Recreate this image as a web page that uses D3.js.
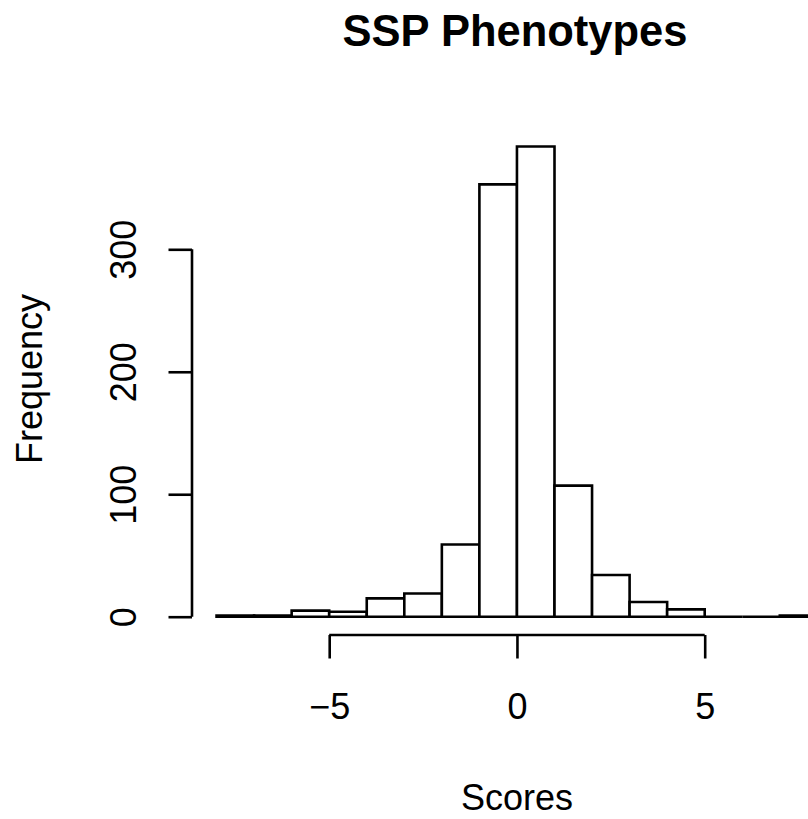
<!DOCTYPE html>
<html>
<head>
<meta charset="utf-8">
<script src="https://cdn.jsdelivr.net/npm/d3@7"></script>
<style>
	body { margin: 0; background: #fff; }
	text { font-family: "Liberation Sans", Arial, sans-serif; fill: #000; }
</style>
</head>
<body>
<svg id="chart" width="808" height="819"></svg>
<script>
/* jshint esversion: 6 */

var binEdges = [-8, -7, -6, -5, -4, -3, -2, -1, 0, 1, 2, 3, 4, 5, 6, 7, 8];
var counts = [1, 1, 5, 4, 15, 19, 59, 353, 384, 107, 34, 12, 6, 0, 0, 1];
var xTicks = [-5, 0, 5];
var yTicks = [0, 100, 200, 300];

var svg = d3.select("#chart");

var x = d3.scaleLinear().domain([-5, 5]).range([329.2, 704.7]);
var y = d3.scaleLinear().domain([0, 300]).range([616.7, 249.3]);

var bins = counts.map(function(c, i) {
	return {x0: binEdges[i], x1: binEdges[i + 1], n: c};
});

// bars as closed paths so empty bins still show as a line on the baseline
svg.append("g")
	.selectAll("path")
	.data(bins)
	.enter().append("path")
		.attr("d", function(d) {
			return "M" + x(d.x0) + "," + y(0) +
				"V" + y(d.n) + "H" + x(d.x1) + "V" + y(0) + "Z";
		})
		.attr("fill", "#fff")
		.attr("stroke", "#000")
		.attr("stroke-width", 2.6)
		.attr("stroke-linejoin", "miter");

// x axis, offset below the plot like R
var xAxis = d3.axisBottom(x)
	.tickValues(xTicks)
	.tickSize(23.5)
	.tickFormat(function(d) { return d < 0 ? "\u2212" + Math.abs(d) : d; });

var gx = svg.append("g")
	.attr("transform", "translate(0,635)")
	.call(xAxis);
gx.select(".domain").attr("d", "M" + x(-5) + ",0H" + x(5));
gx.selectAll(".tick text")
	.attr("y", 84)
	.attr("dy", null);

// y axis
var yAxis = d3.axisLeft(y)
	.tickValues(yTicks)
	.tickSize(23.5)
	.tickPadding(0);

var gy = svg.append("g")
	.attr("transform", "translate(192,0)")
	.call(yAxis);
gy.select(".domain").attr("d", "M0," + y(0) + "V" + y(300));

svg.selectAll(".domain, .tick line")
	.attr("stroke", "#000")
	.attr("stroke-width", 2.6);

svg.selectAll(".tick text")
	.style("font-size", "36px")
	.style("font-family", "'Liberation Sans', Arial, sans-serif")
	.attr("fill", "#000");

gy.selectAll(".tick text")
	.attr("x", null)
	.attr("dy", null)
	.attr("text-anchor", "middle")
	.attr("transform", "translate(-56,0) rotate(-90)");

// titles
svg.append("text")
	.attr("x", 515)
	.attr("y", 46)
	.attr("text-anchor", "middle")
	.style("font-size", "43.5px")
	.style("font-weight", "bold")
	.text("SSP Phenotypes");

svg.append("text")
	.attr("x", x(0))
	.attr("y", 810)
	.attr("text-anchor", "middle")
	.style("font-size", "36px")
	.text("Scores");

svg.append("text")
	.attr("transform", "translate(42,379) rotate(-90)")
	.attr("text-anchor", "middle")
	.style("font-size", "36px")
	.text("Frequency");
</script>
</body>
</html>
